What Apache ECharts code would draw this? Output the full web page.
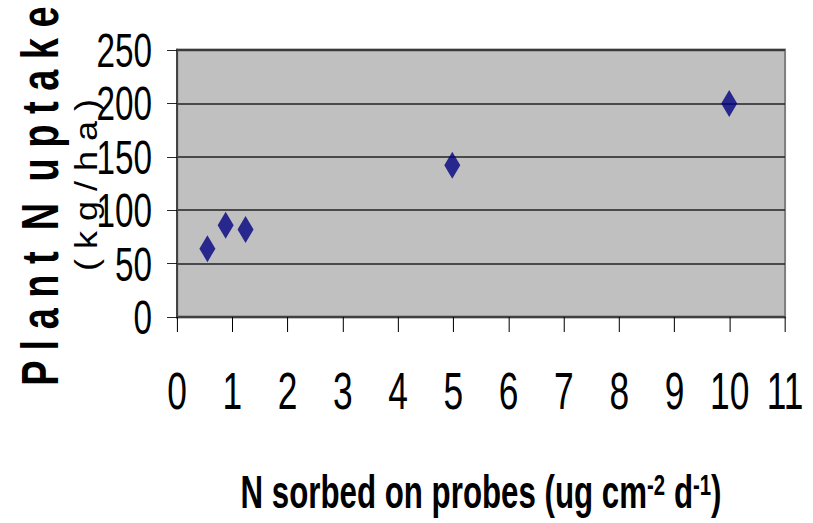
<!DOCTYPE html>
<html>
<head>
<meta charset="utf-8">
<script src="https://cdn.jsdelivr.net/npm/echarts@6/dist/echarts.min.js"></script>
<style>
  html, body { margin: 0; padding: 0; background: #fff; overflow: hidden; }
  /* the original uses a narrow font; squeeze the whole chart sideways */
  #box { width: 1196px; height: 523px; transform: scaleX(0.6798); transform-origin: 0 0; }
</style>
</head>
<body>
<div id="box"></div>
<script>
var probeN = [0.55, 0.88, 1.24, 4.98, 9.99];
var plantN = [64, 86, 82, 142, 200];
var xTicks = [0, 1, 2, 3, 4, 5, 6, 7, 8, 9, 10, 11];
var yTicks = [0, 50, 100, 150, 200, 250];

var S = 813 / 1196;          // horizontal squeeze of the page
function px(x) { return x / S; }

var points = probeN.map(function (x, i) { return [x, plantN[i]]; });
var ff = '"Liberation Sans", Arial, sans-serif';

var myCharts = echarts.init(document.getElementById('box'), null, { renderer: 'svg' });
var option = {
    animation: false,
    grid: {
        left: px(177),
        top: 50,
        right: px(28),
        bottom: 206,
        outerBoundsMode: 'none',
        show: true,
        backgroundColor: '#c0c0c0',
        borderColor: '#808080',
        borderWidth: 3
    },
    xAxis: {
        type: 'value',
        min: xTicks[0],
        max: xTicks[xTicks.length - 1],
        interval: 1,
        axisLine: { show: true, onZero: false, lineStyle: { color: '#404040', width: 2 } },
        axisTick: { show: true, length: 15, lineStyle: { color: '#000', width: 1.5 } },
        splitLine: { show: false },
        axisLabel: {
            margin: 48,
            color: '#000',
            fontFamily: ff,
            fontSize: 52,
            lineHeight: 52
        }
    },
    yAxis: {
        type: 'value',
        min: yTicks[0],
        max: yTicks[yTicks.length - 1],
        interval: 50,
        axisLine: { show: true, lineStyle: { color: '#404040', width: 3 } },
        axisTick: { show: true, length: px(10), lineStyle: { color: '#000', width: 1 } },
        splitLine: { show: true, lineStyle: { color: '#222', width: 1.5 } },
        axisLabel: {
            margin: px(25),
            color: '#000',
            fontFamily: ff,
            fontSize: 49
        }
    },
    graphic: [
        {
            type: 'text',
            x: px(40),
            y: 196,
            rotation: Math.PI / 2,
            scaleY: 2.0,
            style: {
                text: 'P l a n t  N  u p t a k e',
                fill: '#000',
                font: 'bold 38px ' + ff,
                textAlign: 'center',
                textVerticalAlign: 'middle'
            }
        },
        {
            type: 'text',
            x: px(86),
            y: 185,
            rotation: Math.PI / 2,
            scaleY: 1.255,
            style: {
                text: '( k g / h a )',
                fill: '#000',
                font: '36px ' + ff,
                textAlign: 'center',
                textVerticalAlign: 'middle'
            }
        },
        {
            type: 'text',
            x: px(481),
            y: 492,
            scaleX: 1.0,
            style: {
                text: 'N sorbed on probes (ug cm{sup|-2} d{sup|-1})',
                fill: '#000',
                font: 'bold 46px ' + ff,
                textAlign: 'center',
                textVerticalAlign: 'middle',
                rich: {
                    sup: {
                        fill: '#000',
                        fontFamily: ff,
                        fontWeight: 'bold',
                        fontSize: 30,
                        verticalAlign: 'top'
                    }
                }
            }
        }
    ],
    series: [
        {
            name: 'uptake',
            type: 'scatter',
            symbol: 'diamond',
            symbolSize: [px(16), 27],
            itemStyle: { color: '#000080' },
            data: points
        }
    ]
};
myCharts.setOption(option);
</script>
</body>
</html>
